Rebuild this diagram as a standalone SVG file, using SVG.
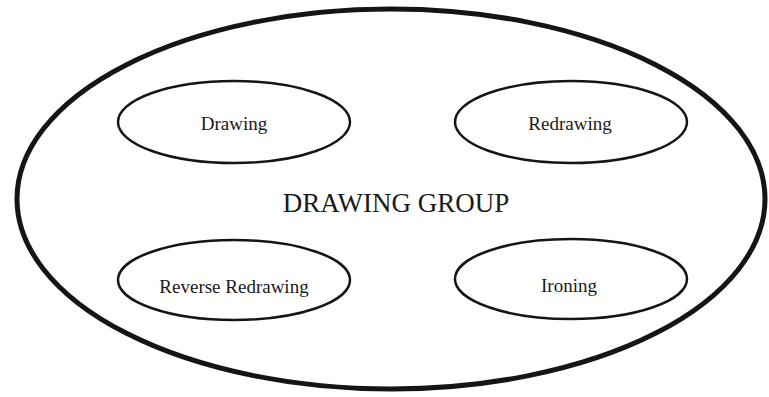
<svg xmlns="http://www.w3.org/2000/svg" width="769" height="397" viewBox="0 0 769 397">
<style>
.outer{fill:none;stroke:#151515;stroke-width:5}
.node{fill:#fff;stroke:#151515;stroke-width:2.5}
.lbl{font-family:"Liberation Serif","Times New Roman",serif;font-size:19px;fill:#1a1a1a;text-anchor:middle}
.title{font-family:"Liberation Serif","Times New Roman",serif;font-size:27px;fill:#1a1a1a;text-anchor:middle}
</style>
<rect width="769" height="397" fill="#fff"/>
<g id="drawing-group">
<ellipse class="outer" cx="391" cy="199" rx="374" ry="190"/>
<text class="title" x="396" y="212">DRAWING GROUP</text>
</g>
<g id="connectors"></g>
<g id="node-drawing">
<ellipse class="node" cx="234" cy="122" rx="116" ry="41"/>
<text class="lbl" x="234" y="130">Drawing</text>
</g>
<g id="node-redrawing">
<ellipse class="node" cx="571" cy="122" rx="116" ry="41"/>
<text class="lbl" x="570" y="130">Redrawing</text>
</g>
<g id="node-reverse-redrawing">
<ellipse class="node" cx="234" cy="280" rx="116" ry="40"/>
<text class="lbl" x="234" y="293">Reverse Redrawing</text>
</g>
<g id="node-ironing">
<ellipse class="node" cx="571" cy="279" rx="116" ry="40"/>
<text class="lbl" x="569" y="292">Ironing</text>
</g>
</svg>
